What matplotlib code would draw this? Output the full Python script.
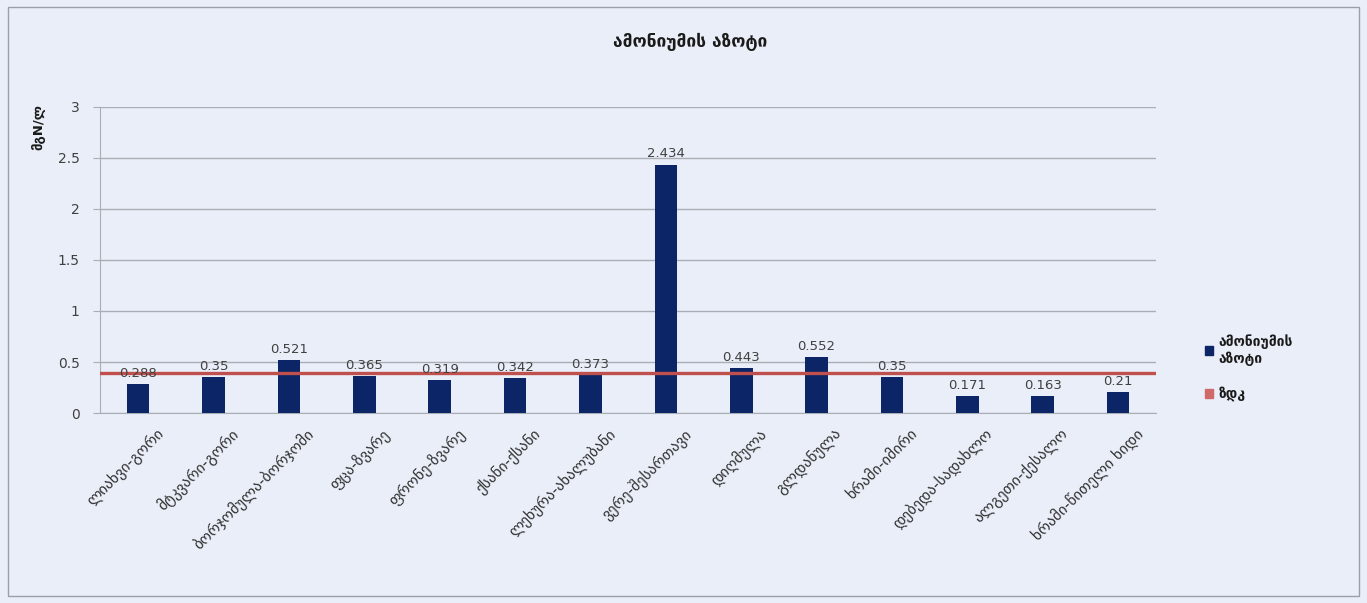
import matplotlib.pyplot as plt
import matplotlib.patches as mpatches
import matplotlib.transforms as mtransforms
import numpy as np

# data
stations = [
    "ლიახვი-გორი",
    "მტკვარი-გორი",
    "ბორჯომულა-ბორჯომი",
    "ფცა-ზვარე",
    "ფრონე-ზვარე",
    "ქსანი-ქსანი",
    "ლეხურა-ახალუბანი",
    "ვერე-შესართავი",
    "დიღმულა",
    "გლდანულა",
    "ხრამი-იმირი",
    "დებედა-სადახლო",
    "ალგეთი-ქესალო",
    "ხრამი-წითელი ხიდი",
]
ammonium = [0.288, 0.35, 0.521, 0.365, 0.319, 0.342, 0.373, 2.434,
            0.443, 0.552, 0.35, 0.171, 0.163, 0.21]
mpc = 0.39  # ზდკ limit
y_ticks = [0, 0.5, 1, 1.5, 2, 2.5, 3]
y_tick_labels = ["0", "0.5", "1", "1.5", "2", "2.5", "3"]

title = "ამონიუმის აზოტი"
series_name = "ამონიუმის\nაზოტი"
limit_name = "ზდკ"
y_label = "მგN/ლ"

bg = "#e9eef8"
navy = "#0b2566"
red = "#c0504d"
grid_c = "#a9adb5"
text_c = "#404040"

fig = plt.figure(figsize=(13.67, 6.03), dpi=100, facecolor=bg)
ax = fig.add_axes([0.0735, 0.315, 0.772, 0.508])
ax.set_facecolor(bg)

x = np.arange(len(stations))
bars = ax.bar(x, ammonium, width=0.3, color=navy, zorder=3)
ax.axhline(mpc, color=red, linewidth=2.4, zorder=4)

for bar, v in zip(bars, ammonium):
    ax.text(bar.get_x() + bar.get_width() / 2, v + 0.04, f"{v:g}",
            ha="center", va="bottom", fontsize=9.5, color=text_c, zorder=5)

ax.set_xlim(-0.5, len(stations) - 0.5)
ax.set_ylim(0, 3)
ax.set_yticks(y_ticks)
ax.set_yticklabels(y_tick_labels, fontsize=10, color=text_c)
ax.tick_params(axis="y", length=5, color=grid_c, pad=10)
ax.grid(axis="y", color=grid_c, linewidth=1, zorder=0)

ax.set_xticks(x)
ax.set_xticklabels(stations, rotation=45, ha="right", va="top",
                   rotation_mode="anchor", fontsize=11, color="#303030")
ax.tick_params(axis="x", length=0, pad=9)
shift = mtransforms.ScaledTranslation(0.17, 0, fig.dpi_scale_trans)
for lbl in ax.get_xticklabels():
    lbl.set_transform(lbl.get_transform() + shift)

for side in ["top", "right"]:
    ax.spines[side].set_visible(False)
ax.spines["left"].set_color(grid_c)
ax.spines["bottom"].set_color(grid_c)

fig.text(0.505, 0.93, title, ha="center", va="center", fontsize=12.5,
         fontweight="bold", color="#1a1a1a")
fig.text(0.028, 0.79, y_label, rotation=90, ha="center", va="center",
         fontsize=9.5, fontweight="bold", color="#1a1a1a")

handles = [mpatches.Patch(color=navy, label=series_name),
           mpatches.Patch(color="#d06a6a", label=limit_name)]
leg = fig.legend(handles=handles, loc="center left", bbox_to_anchor=(0.872, 0.39),
                 frameon=False, fontsize=10, handlelength=0.6, handleheight=0.6,
                 handletextpad=0.4, labelspacing=1.5)
for t in leg.get_texts():
    t.set_fontweight("bold")
    t.set_color("#1a1a1a")

fig.patches.append(mpatches.Rectangle((0.006, 0.012), 0.988, 0.976,
                                      transform=fig.transFigure, fill=False,
                                      edgecolor="#9aa0a8", linewidth=1))

fig.savefig("out.png", dpi=100, facecolor=bg)
